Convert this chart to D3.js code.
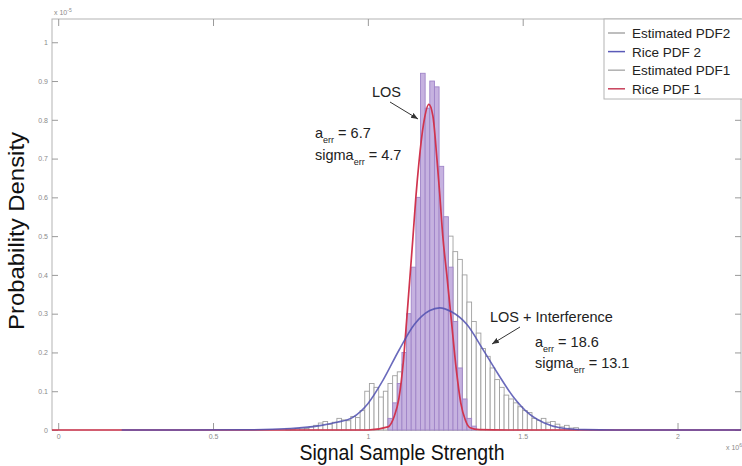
<!DOCTYPE html>
<html>
<head>
<meta charset="utf-8">
<script src="https://cdn.jsdelivr.net/npm/d3@7"></script>
<style>
  body { margin: 0; background: #fff; }
  svg { display: block; font-family: "Liberation Sans", Arial, sans-serif; }
  .tick text { fill: #8a8a8a; font-size: 7px; }
  .tick line { stroke: #9a9a9a; }
  .domain { display: none; }
</style>
</head>
<body>
<svg id="chart" width="742" height="466"></svg>
<script>
// histogram bins (same width for both estimates)
var binWidth = 0.015;
var pdf2Start = 0.735;
var pdf2Values = [0.003, 0.002, 0.004, 0.005, 0.004, 0.008, 0.012, 0.018, 0.022, 0.015,
                  0.02, 0.03, 0.026, 0.024, 0.035, 0.032, 0.05, 0.1, 0.12, 0.11,
                  0.085, 0.1, 0.12, 0.14, 0.15, 0.17, 0.19, 0.22, 0.25, 0.28,
                  0.3, 0.33, 0.36, 0.4, 0.48, 0.5, 0.46, 0.44, 0.4, 0.33,
                  0.28, 0.25, 0.21, 0.19, 0.16, 0.13, 0.11, 0.09, 0.08, 0.07,
                  0.06, 0.05, 0.045, 0.03, 0.025, 0.03, 0.02, 0.022, 0.015, 0.008,
                  0.012, 0.005, 0.006];
var pdf1Start = 1.065;
var pdf1Values = [0.03, 0.07, 0.12, 0.2, 0.3, 0.42, 0.6, 0.92, 0.83, 0.9,
                  0.885, 0.68, 0.55, 0.42, 0.28, 0.16, 0.08, 0.03, 0.01];

// fitted Rice curves
var rice1X = [-0.02, 1.0, 1.065, 1.085, 1.10, 1.115, 1.125, 1.135, 1.145, 1.155, 1.165, 1.18, 1.197,
              1.21, 1.223, 1.232, 1.242, 1.255, 1.27, 1.285, 1.30, 1.315, 1.33, 1.36, 1.45, 2.205];
var rice1Y = [0, 0, 0.008, 0.035, 0.08, 0.18, 0.28, 0.385, 0.49, 0.6, 0.69, 0.79, 0.84,
              0.81, 0.7, 0.61, 0.5, 0.4, 0.28, 0.16, 0.07, 0.025, 0.006, 0.001, 0, 0];
var rice2X = [0.205, 0.6, 0.75, 0.85, 0.9, 0.95, 1.0, 1.05, 1.1, 1.15, 1.2, 1.232,
              1.27, 1.32, 1.37, 1.42, 1.47, 1.52, 1.57, 1.62, 1.7, 1.8, 2.205];
var rice2Y = [0, 0.0005, 0.004, 0.012, 0.02, 0.032, 0.068, 0.13, 0.205, 0.272, 0.308, 0.315,
              0.305, 0.272, 0.21, 0.145, 0.085, 0.042, 0.018, 0.006, 0.001, 0, 0];

var xTicks = [0, 0.5, 1, 1.5, 2];
var xTickLabels = ["0", "0.5", "1", "1.5", "2"];
var yTicks = [0, 0.1, 0.2, 0.3, 0.4, 0.5, 0.6, 0.7, 0.8, 0.9, 1];
var yTickLabels = ["0", "0.1", "0.2", "0.3", "0.4", "0.5", "0.6", "0.7", "0.8", "0.9", "1"];

var legendLabels = ["Estimated PDF2", "Rice PDF 2", "Estimated PDF1", "Rice PDF 1"];
var legendColors = ["#a8a8a8", "#5a5ab8", "#b0b0b0", "#c8405a"];

var svg = d3.select("#chart");
var plotL = 52, plotR = 741, plotT = 19, plotB = 430;

var x = d3.scaleLinear().domain([-0.02, 2.205]).range([plotL, plotR]);
var y = d3.scaleLinear().domain([0, 1.06]).range([plotB, plotT]);

// frame
svg.append("rect")
    .attr("x", plotL).attr("y", plotT)
    .attr("width", plotR - plotL).attr("height", plotB - plotT)
    .attr("fill", "#fff").attr("stroke", "#b4b4b4");

// axes with inward ticks
svg.append("g").attr("transform", "translate(0," + plotB + ")")
    .call(d3.axisBottom(x).tickValues(xTicks).tickSize(-7).tickPadding(4)
        .tickFormat((d, i) => xTickLabels[i]));
svg.append("g").attr("transform", "translate(0," + plotT + ")")
    .call(d3.axisTop(x).tickValues(xTicks).tickSize(-7).tickFormat(""));
svg.append("g").attr("transform", "translate(" + plotL + ",0)")
    .call(d3.axisLeft(y).tickValues(yTicks).tickSize(-6).tickPadding(4)
        .tickFormat((d, i) => yTickLabels[i]));
svg.append("g").attr("transform", "translate(" + plotR + ",0)")
    .call(d3.axisRight(y).tickValues(yTicks).tickSize(-6).tickFormat(""));

var bw = x(binWidth) - x(0);

// Estimated PDF2
svg.append("g").selectAll("rect")
  .data(pdf2Values)
  .join("rect")
    .attr("x", (d, i) => x(pdf2Start + i * binWidth))
    .attr("y", d => y(d))
    .attr("width", bw)
    .attr("height", d => y(0) - y(d))
    .attr("fill", "#fff")
    .attr("stroke", "#a0a0a0")
    .attr("stroke-width", 0.9);

// Estimated PDF1
svg.append("g").selectAll("rect")
  .data(pdf1Values)
  .join("rect")
    .attr("x", (d, i) => x(pdf1Start + i * binWidth))
    .attr("y", d => y(d))
    .attr("width", bw)
    .attr("height", d => y(0) - y(d))
    .attr("fill", "#c6b2e0")
    .attr("stroke", "#a085c8")
    .attr("stroke-width", 0.9);

var line = d3.line().x(d => x(d[0])).y(d => y(d[1])).curve(d3.curveMonotoneX);

svg.append("path")
    .datum(rice1X.map((v, i) => [v, rice1Y[i]]))
    .attr("d", line)
    .attr("fill", "none")
    .attr("stroke", "#d0344e")
    .attr("stroke-width", 1.7);

svg.append("path")
    .datum(rice2X.map((v, i) => [v, rice2Y[i]]))
    .attr("d", line)
    .attr("fill", "none")
    .attr("stroke", "#5050b0")
    .attr("stroke-opacity", 0.85)
    .attr("stroke-width", 1.6);

// exponent labels
var e1 = svg.append("text").attr("x", 54).attr("y", 15).attr("fill", "#8a8a8a").attr("font-size", 7);
e1.append("tspan").text("x 10");
e1.append("tspan").attr("dy", -3).attr("font-size", 5).text("-5");
var e2 = svg.append("text").attr("x", 726).attr("y", 450).attr("fill", "#8a8a8a").attr("font-size", 7);
e2.append("tspan").text("x 10");
e2.append("tspan").attr("dy", -3).attr("font-size", 5).text("6");

// legend
var lg = svg.append("g");
lg.append("rect").attr("x", 604).attr("y", plotT).attr("width", 140).attr("height", 80)
    .attr("fill", "#fff").attr("stroke", "#b4b4b4");
legendLabels.forEach(function(lab, i) {
  var ly = 33 + i * 18.6;
  lg.append("line").attr("x1", 608).attr("x2", 625).attr("y1", ly).attr("y2", ly)
      .attr("stroke", legendColors[i]).attr("stroke-width", 1.5);
  lg.append("text").attr("x", 632).attr("y", ly + 5)
      .attr("font-size", 13.5).attr("fill", "#222").text(lab);
});

// annotations
svg.append("defs").append("marker")
    .attr("id", "arr").attr("viewBox", "0 0 10 10").attr("refX", 10).attr("refY", 5)
    .attr("markerWidth", 7).attr("markerHeight", 7).attr("orient", "auto")
  .append("path").attr("d", "M0,1L10,5L0,9Z").attr("fill", "#333");

function subLabel(px, py, main, sub, rest) {
  var t = svg.append("text").attr("x", px).attr("y", py)
      .attr("font-size", 14.5).attr("fill", "#222");
  t.append("tspan").text(main);
  t.append("tspan").attr("dy", 5).attr("font-size", 9).text(sub);
  t.append("tspan").attr("dy", -5).text(rest);
}

svg.append("text").attr("x", 372).attr("y", 97).attr("font-size", 14.5).attr("fill", "#222").text("LOS");
svg.append("line").attr("x1", 390).attr("y1", 102).attr("x2", 418).attr("y2", 119)
    .attr("stroke", "#333").attr("stroke-width", 1).attr("marker-end", "url(#arr)");
subLabel(315, 138, "a", "err", " = 6.7");
subLabel(315, 160, "sigma", "err", " = 4.7");

svg.append("text").attr("x", 490).attr("y", 322).attr("font-size", 14.5).attr("fill", "#222").text("LOS + Interference");
svg.append("line").attr("x1", 520).attr("y1", 327).attr("x2", 492).attr("y2", 344)
    .attr("stroke", "#333").attr("stroke-width", 1).attr("marker-end", "url(#arr)");
subLabel(535, 347, "a", "err", " = 18.6");
subLabel(535, 368, "sigma", "err", " = 13.1");

// axis titles
svg.append("text").attr("x", 402).attr("y", 460)
    .attr("text-anchor", "middle").attr("font-size", 22).attr("fill", "#111")
    .attr("textLength", 205).attr("lengthAdjust", "spacingAndGlyphs")
    .style("font-family", "'Liberation Sans Narrow', 'Liberation Sans', Arial, sans-serif")
    .text("Signal Sample Strength");
svg.append("text")
    .attr("transform", "translate(24,231) rotate(-90)")
    .attr("text-anchor", "middle").attr("font-size", 22).attr("fill", "#111")
    .attr("textLength", 198).attr("lengthAdjust", "spacingAndGlyphs")
    .style("font-family", "'Liberation Sans Narrow', 'Liberation Sans', Arial, sans-serif")
    .text("Probability Density");
</script>
</body>
</html>
